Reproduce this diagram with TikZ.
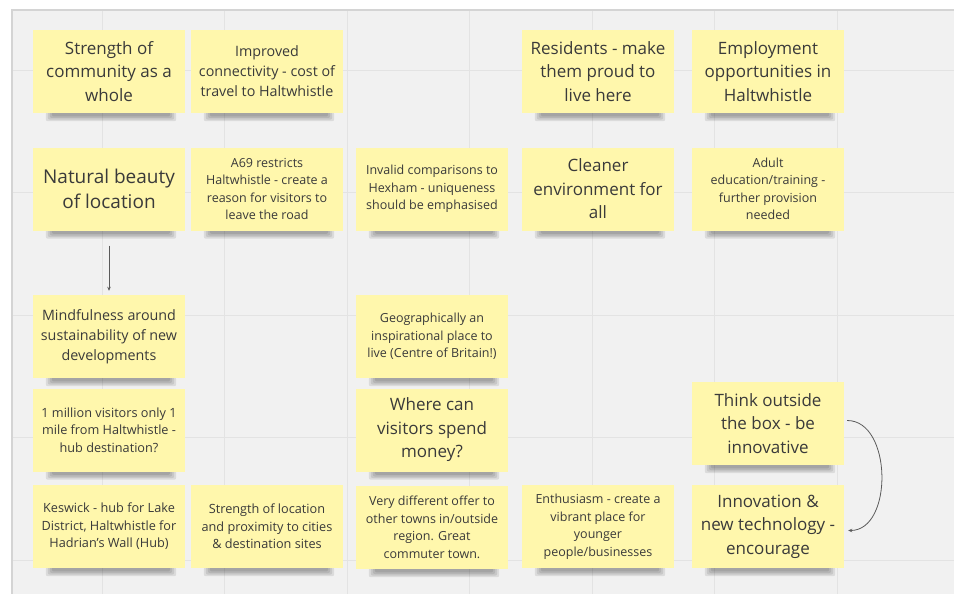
\documentclass[tikz,border=0pt]{standalone}
\usepackage{fontspec}
\setmainfont{Open Sans}
\usetikzlibrary{arrows.meta,backgrounds}

\definecolor{board}{HTML}{F1F1F1}
\definecolor{gridline}{HTML}{E3E3E3}
\definecolor{frameline}{HTML}{D4D4D4}
\definecolor{sticky}{HTML}{FFF7AC}
\definecolor{ink}{HTML}{3A3A3A}
\definecolor{wire}{HTML}{5A5A5A}

\newcommand{\hugetxt}{\fontsize{19}{25}\selectfont}
\newcommand{\bigtxt}{\fontsize{17}{23.5}\selectfont}
\newcommand{\midtxt}{\fontsize{14.3}{20}\selectfont}
\newcommand{\smtxt}{\fontsize{12.7}{17.5}\selectfont}
\newcommand{\tinytxt}{\fontsize{12.5}{17.5}\selectfont}

\tikzset{
  note/.style={fill=sticky, text=ink, minimum width=152pt, minimum height=83pt,
    inner sep=0pt, align=center},
  link/.style={draw=wire, line width=.8pt, -{Stealth[length=4pt,width=3.5pt]}}
}

\begin{document}
\begin{tikzpicture}[x=1pt,y=-1pt]

      \useasboundingbox (0,0) rectangle (954,594);

      \begin{scope}[every node/.style={note}]
        \node[font=\bigtxt]  (1)  at (109,71.5)  {Strength of\\community as a\\whole};
        \node[font=\midtxt]  (2)  at (267,71.5)  {Improved\\connectivity - cost of\\travel to Haltwhistle};
        \node[font=\bigtxt]  (3)  at (598,71.5)  {Residents - make\\them proud to\\live here};
        \node[font=\bigtxt]  (4)  at (768,71.5)  {Employment\\opportunities in\\Haltwhistle};
        \node[font=\hugetxt] (5)  at (109,189)   {Natural beauty\\of location};
        \node[font=\tinytxt] (6)  at (267,189)   {A69 restricts\\Haltwhistle - create a\\reason for visitors to\\leave the road};
        \node[font=\tinytxt] (7)  at (432,189)   {Invalid comparisons to\\Hexham - uniqueness\\should be emphasised};
        \node[font=\bigtxt]  (8)  at (598,189)   {Cleaner\\environment for\\all};
        \node[font=\tinytxt] (9)  at (768,189)   {Adult\\education/training -\\further provision\\needed};
        \node[font=\midtxt]  (10) at (109,336.5) {Mindfulness around\\sustainability of new\\developments};
        \node[font=\tinytxt] (11) at (432,336.5) {Geographically an\\inspirational place to\\live (Centre of Britain!)};
        \node[font=\smtxt]   (12) at (109,430)   {1 million visitors only 1\\mile from Haltwhistle -\\hub destination?};
        \node[font=\bigtxt]  (13) at (432,430)   {Where can\\visitors spend\\money?};
        \node[font=\bigtxt]  (14) at (768,423.5) {Think outside\\the box - be\\innovative};
        \node[font=\smtxt]   (15) at (109,526.5) {Keswick - hub for Lake\\District, Haltwhistle for\\Hadrian's Wall (Hub)};
        \node[font=\smtxt]   (16) at (267,526.5) {Strength of location\\and proximity to cities\\\& destination sites};
        \node[font=\tinytxt] (17) at (432,527.5) {Very different offer to\\other towns in/outside\\region. Great\\commuter town.};
        \node[font=\tinytxt] (18) at (598,526.5) {Enthusiasm - create a\\vibrant place for\\younger\\people/businesses};
        \node[font=\bigtxt]  (19) at (768,526.5) {Innovation \&\\new technology -\\encourage};
      \end{scope}

      % board and grid
      \begin{scope}[on background layer]
        \fill[white] (0,0) rectangle (954,594);
        \fill[board] (12,10) rectangle (954,594);
        \foreach \x in {102,224.5,...,840}
          \draw[gridline, line width=.6pt] (\x,11) -- (\x,594);
        \foreach \y in {70,192.5,...,570}
          \draw[gridline, line width=.6pt] (13,\y) -- (954,\y);
        \draw[frameline, line width=1.6pt] (12,594) -- (12,10) -- (954,10);
      \end{scope}

      % shadows under the notes
      \begin{scope}[on background layer]
        \foreach \n in {1,...,19}
          \foreach \k in {0,1,2,3}
            \fill[black, opacity=.09, rounded corners=2pt]
              ([xshift={(13+2*\k)*1pt}, yshift=1pt]\n.south west) rectangle
              ([xshift={(-9-2*\k)*1pt}, yshift={(-8+1.6*\k)*1pt}]\n.south east);
      \end{scope}

      \draw[link, shorten <=15pt, shorten >=4pt] (5.south) -- (10.north);
      \draw[link] ([xshift=3pt,yshift=3pt]14.east) to[out=0, in=0, looseness=1.05] ([xshift=4pt,yshift=-4pt]19.east);

    \end{tikzpicture}
\end{document}
